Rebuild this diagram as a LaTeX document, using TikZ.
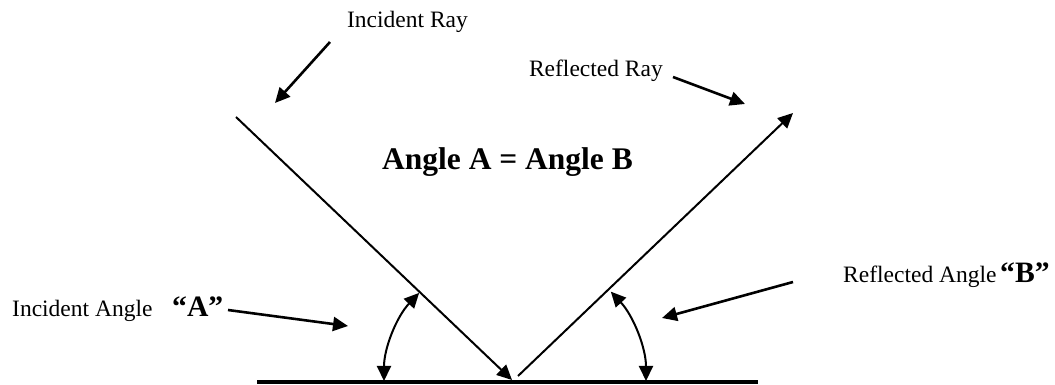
\documentclass[tikz,border=0pt]{standalone}
\usepackage{fontspec}
\setmainfont{Liberation Serif}
\usetikzlibrary{arrows.meta}
\begin{document}
\begin{tikzpicture}[x=1pt,y=1pt,
  ray/.style={line width=2pt},
  lblarrow/.style={line width=2.6pt,-{Triangle[length=15pt,width=14pt]}},
  tip/.style={-{Triangle[length=15pt,width=14pt]}},
  bothtips/.style={{Triangle[length=15pt,width=14pt]}-{Triangle[length=15pt,width=14pt]}},
  lbl/.style={inner sep=0pt,font=\fontsize{23.5}{28}\selectfont},
  quote/.style={inner sep=0pt,font=\bfseries\fontsize{29.6}{34}\selectfont},
  title/.style={inner sep=0pt,font=\bfseries\fontsize{31.5}{36}\selectfont}]
\useasboundingbox (0,0) rectangle (1055,385);
% surface and rays
\coordinate (SL) at (257,2.5);
\coordinate (SR) at (758,2.5);
\draw[line width=4pt] (SL) -- (SR);
\coordinate (IRs) at (236,268);
\coordinate (IRe) at (512,5);
\coordinate (RRs) at (518,9);
\coordinate (RRe) at (793,272);
\draw[ray,tip] (IRs) -- (IRe);
\draw[ray,tip] (RRs) -- (RRe);
% angle arcs
\coordinate (PA) at (512,4);
\coordinate (PB) at (515,4);
\draw[ray,bothtips] ([shift={(180:128)}]PA) arc[start angle=180,end angle=136.5,radius=128];
\draw[ray,bothtips] ([shift={(0:131)}]PB) arc[start angle=0,end angle=43,radius=131];
% texts
\node[lbl,anchor=base] (tIR) at (407.5,357) {Incident Ray};
\node[lbl,anchor=base east] (tRR) at (663,308) {Reflected Ray};
\node[title,anchor=base] (tAB) at (507.5,215) {Angle A = Angle B};
\node[lbl,anchor=base west] (tIA) at (12,68) {Incident Angle};
\node[quote,anchor=base west] (tA) at (172,68) {“A”};
\node[lbl,anchor=base west] (tRA) at (843,102) {Reflected Angle};
\node[quote,anchor=base west] (tB) at (1000,102) {“B”};
% label arrows
\coordinate (aIRs) at (330,343);
\coordinate (aIRe) at (275,282);
\draw[lblarrow] (aIRs) -- (aIRe);
\coordinate (aRRs) at (673,308);
\coordinate (aRRe) at (745,281);
\draw[lblarrow] (aRRs) -- (aRRe);
\coordinate (aAs) at (228,75);
\coordinate (aAe) at (348,59);
\draw[lblarrow] (aAs) -- (aAe);
\coordinate (aBs) at (793,103);
\coordinate (aBe) at (662,67);
\draw[lblarrow] (aBs) -- (aBe);
\end{tikzpicture}
\end{document}
